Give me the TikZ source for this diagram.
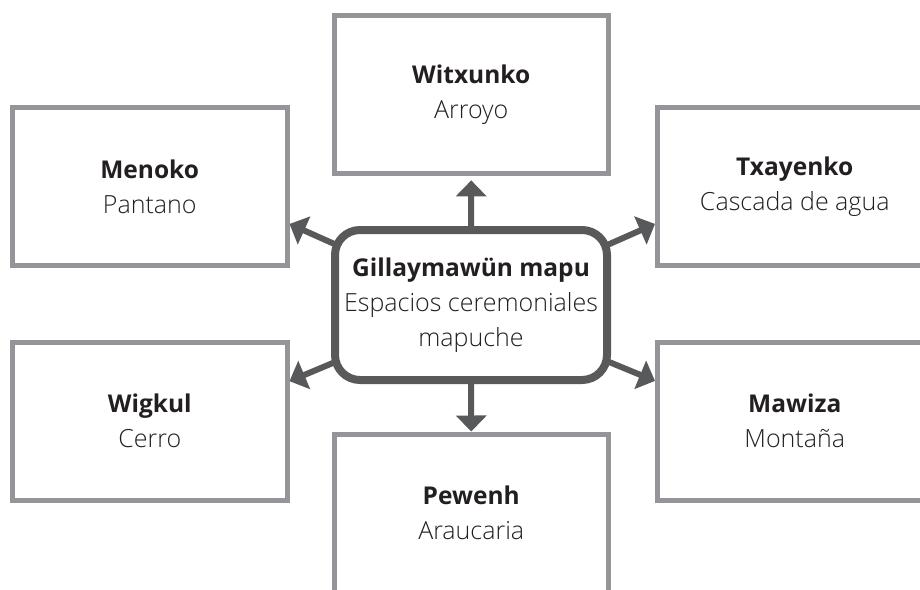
\documentclass[tikz,border=0pt]{standalone}
\usepackage{fontspec}
\setmainfont{Open Sans}[UprightFont={* Light}, BoldFont={* Bold}]
\usetikzlibrary{arrows.meta,backgrounds}
\definecolor{boxgray}{HTML}{939598}
\definecolor{arrowgray}{HTML}{58595B}
\definecolor{inkblack}{HTML}{231F20}
% title line of a label: bold and a touch smaller than the light subtitle
\newcommand{\placename}[1]{{\fontsize{24.5}{35}\selectfont\bfseries #1}}
\begin{document}
\begin{tikzpicture}[x=1pt,y=-1pt,
  labeltext/.style={align=center, text=inkblack, font=\fontsize{25}{35}\selectfont},
  leaf/.style={labeltext, draw=boxgray, line width=5pt, fill=white,
    minimum width=274.5pt, minimum height=158pt, inner sep=0pt},
  hub/.style={labeltext, draw=arrowgray, line width=8pt, rounded corners=25pt,
    fill=white, minimum width=272pt, minimum height=150pt, inner sep=0pt},
  link/.style={draw=arrowgray, line width=6pt,
    -{Triangle[length=16pt,width=30pt]}}]
\useasboundingbox (0,0) rectangle (920,589);
\clip (0,0) rectangle (920,589);

% central concept
\node[hub] (hub) at (471,305) {\placename{Gillaymawün mapu}\\Espacios ceremoniales\\mapuche};

% surrounding places
\node[leaf] (witxunko) at (471.25,94.85) {\placename{Witxunko}\\Arroyo};
\node[leaf] (menoko)   at (149.75,186.5) {\placename{Menoko}\\Pantano};
\node[leaf] (txayenko) at (794.75,186.5) {\placename{Txayenko}\\Cascada de agua};
\node[leaf] (wigkul)   at (149.75,421.25) {\placename{Wigkul}\\Cerro};
\node[leaf] (mawiza)   at (794.75,421) {\placename{Mawiza}\\Montaña};
\node[leaf] (pewenh)   at (471.25,513) {\placename{Pewenh}\\Araucaria};

% radial arrows, drawn behind the nodes
\begin{scope}[on background layer]
  \draw[link, shorten >=4pt] (hub.center) -- (witxunko.south);
  \draw[link] (hub.center) -- (pewenh.north);
  \draw[link] (hub.center) -- (menoko.-15);
  \draw[link] (hub.center) -- (txayenko.195);
  \draw[link] (hub.center) -- (wigkul.16);
  \draw[link] (hub.center) -- (mawiza.164);
\end{scope}
\end{tikzpicture}
\end{document}
